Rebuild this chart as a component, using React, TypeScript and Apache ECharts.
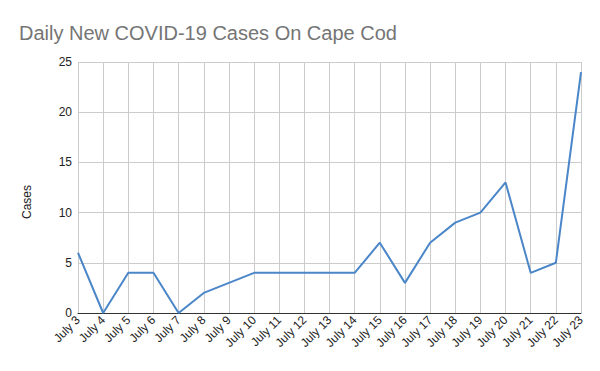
import React, { useEffect, useRef } from "react";
import * as echarts from "echarts";

const categories = [
  "July 3", "July 4", "July 5", "July 6", "July 7", "July 8", "July 9", "July 10",
  "July 11", "July 12", "July 13", "July 14", "July 15", "July 16", "July 17",
  "July 18", "July 19", "July 20", "July 21", "July 22", "July 23",
];
const cases = [6, 0, 4, 4, 0, 2, 3, 4, 4, 4, 4, 4, 7, 3, 7, 9, 10, 13, 4, 5, 24];
const titleText = "Daily New COVID-19 Cases On Cape Cod";
const yAxisName = "Cases";

export default function App() {
  const ref = useRef<HTMLDivElement>(null);
  useEffect(() => {
    if (!ref.current) return;
    const chart = echarts.init(ref.current, null, { renderer: "svg" });
    const font = "'Liberation Sans', Arial, sans-serif";
    chart.setOption({
      animation: false,
      backgroundColor: "#ffffff",
      textStyle: { fontFamily: font },
      title: {
        text: titleText,
        left: 14,
        top: 18,
        textStyle: { fontFamily: font, fontSize: 20, fontWeight: "normal", color: "#757575" },
      },
      graphic: [
        {
          type: "text",
          x: 21,
          y: 202,
          rotation: Math.PI / 2,
          style: {
            text: yAxisName,
            fontFamily: font,
            fontSize: 12,
            fill: "#222222",
            align: "center",
            verticalAlign: "top",
          },
        },
      ],
      grid: { left: 78, right: 19, top: 62, bottom: 58 },
      xAxis: {
        type: "category",
        data: categories,
        boundaryGap: false,
        axisLine: { lineStyle: { color: "#333333", width: 1 } },
        axisTick: { show: false },
        splitLine: { show: true, lineStyle: { color: "#cccccc", width: 1 } },
        axisLabel: {
          rotate: 45,
          interval: 0,
          fontSize: 12,
          color: "#222222",
          fontFamily: font,
          margin: 5,
        },
      },
      yAxis: {
        type: "value",
        min: 0,
        max: 25,
        interval: 5,
        axisLine: { show: false },
        axisTick: { show: false },
        splitLine: { lineStyle: { color: "#cccccc", width: 1 } },
        axisLabel: { fontSize: 12, color: "#222222", fontFamily: font, margin: 6 },
      },
      series: [
        {
          type: "line",
          data: cases,
          showSymbol: false,
          symbol: "none",
          lineStyle: { color: "#4a86c8", width: 2 },
          itemStyle: { color: "#4a86c8" },
        },
      ],
    });
    return () => chart.dispose();
  }, []);
  return <div ref={ref} style={{ width: 600, height: 371, position: "absolute", left: 0, top: 0 }} />;
}
